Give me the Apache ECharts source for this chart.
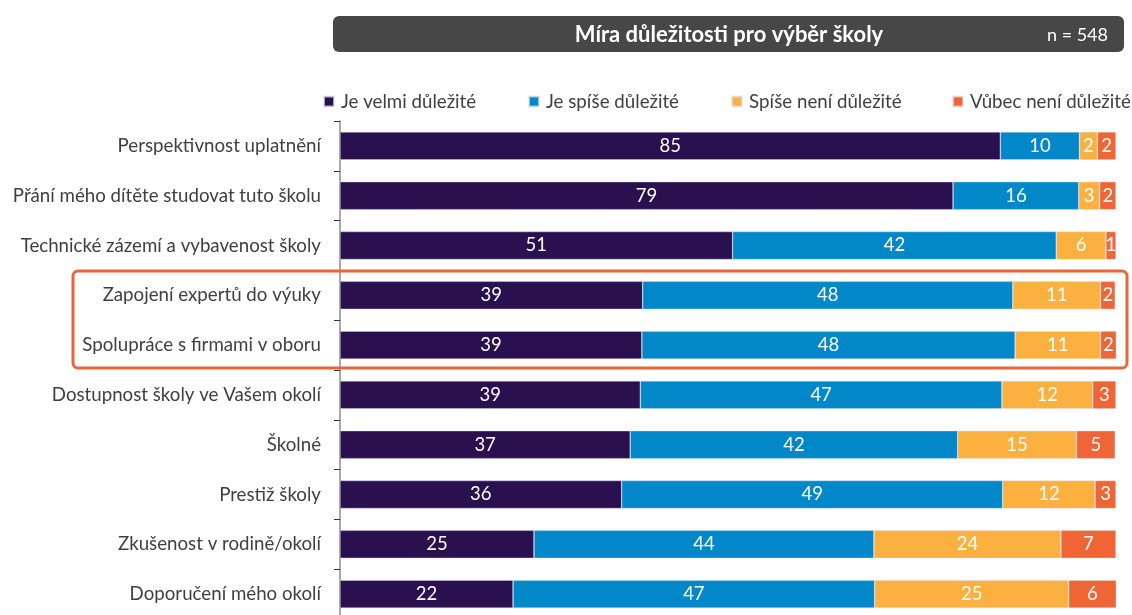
<!DOCTYPE html>
<html><head><meta charset="utf-8">
<script src="https://cdn.jsdelivr.net/npm/echarts@6/dist/echarts.min.js"></script>
<style>html,body{margin:0;padding:0;background:#fff}#c{width:1132px;height:615px}</style>
</head><body><div id="c"></div>
<script>
const categories = [
  'Perspektivnost uplatnění',
  'Přání mého dítěte studovat tuto školu',
  'Technické zázemí a vybavenost školy',
  'Zapojení expertů do výuky',
  'Spolupráce s firmami v oboru',
  'Dostupnost školy ve Vašem okolí',
  'Školné',
  'Prestiž školy',
  'Zkušenost v rodině/okolí',
  'Doporučení mého okolí'
];
const seriesNames = ['Je velmi důležité', 'Je spíše důležité', 'Spíše není důležité', 'Vůbec není důležité'];
const velmi   = [85.1, 79.0, 50.6, 39.0, 38.9, 38.7, 37.4, 36.3, 25.0, 22.3];
const spise   = [10.2, 16.2, 41.7, 47.7, 48.1, 46.6, 42.2, 49.1, 43.8, 46.6];
const spiseNe = [2.3, 2.7, 6.4, 11.3, 11.0, 11.7, 15.3, 11.9, 24.1, 25.0];
const vubec   = [2.4, 2.1, 1.3, 1.9, 2.1, 3.0, 5.0, 2.7, 7.1, 6.2];
const titleText = 'Míra důležitosti pro výběr školy';
const nText = 'n = 548';

const colors = ['#2B1050', '#0288C9', '#FCB040', '#EF6535'];
const FONT = 'Lato';
const chart = echarts.init(document.getElementById('c'));
const dataSets = [velmi, spise, spiseNe, vubec];
const legendLefts = [323, 528, 731, 952];

chart.setOption({
  animation: false,
  textStyle: { fontFamily: FONT },
  grid: { left: 340, width: 776, top: 121, height: 498, containLabel: false, outerBoundsMode: 'none' },
  legend: seriesNames.map((n, i) => ({
    data: [n], left: legendLefts[i], top: 92, padding: 0,
    icon: 'rect', itemWidth: 10, itemHeight: 10, itemGap: 0,
    textStyle: { fontSize: 18.7, color: '#404040', fontFamily: FONT, padding: [0, 0, 0, 2] }
  })),
  xAxis: { type: 'value', min: 0, max: 100, show: false },
  yAxis: {
    type: 'category', data: categories, inverse: true,
    axisLine: { lineStyle: { color: '#8c8c8c', width: 1.5 } },
    axisTick: { show: true, length: 6, lineStyle: { color: '#333' } },
    axisLabel: { fontSize: 18.7, color: '#404040', margin: 19, fontFamily: FONT }
  },
  series: dataSets.map((d, i) => ({
    name: seriesNames[i], type: 'bar', stack: 's', data: d, barWidth: 28,
    itemStyle: { color: colors[i], borderColor: 'rgba(220,225,240,0.7)', borderWidth: 0.6 },
    label: {
      show: true, position: 'inside', color: '#fff', fontSize: 18.5, fontFamily: FONT,
      formatter: p => Math.round(p.value)
    }
  })),
  graphic: [
    { type: 'rect', x: 333, y: 16, shape: { width: 791, height: 36, r: 6 }, style: { fill: '#474747' } },
    { type: 'text', x: 729, y: 35, style: { text: titleText, fill: '#fff', font: 'bold 22px ' + FONT, align: 'center', verticalAlign: 'middle' } },
    { type: 'text', x: 1108, y: 35, style: { text: nText, fill: '#fff', font: '18px ' + FONT, align: 'right', verticalAlign: 'middle' } },
    { type: 'rect', x: 73, y: 271, z: 10, shape: { width: 1054, height: 97, r: 5 }, style: { fill: 'none', stroke: '#E9663A', lineWidth: 3 } }
  ]
});
</script></body></html>
